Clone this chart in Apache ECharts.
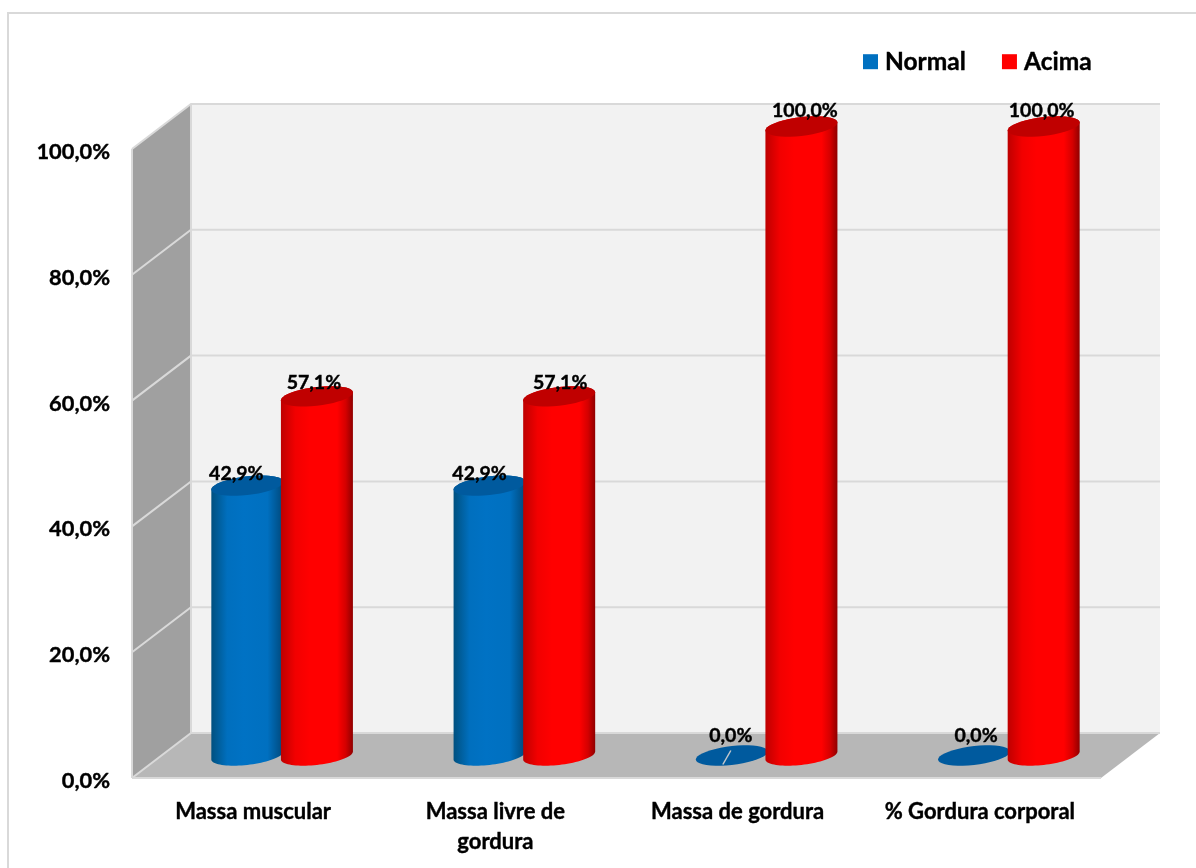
<!DOCTYPE html>
<html>
<head>
<meta charset="utf-8">
<style>html,body{margin:0;padding:0;background:#fff}#chart{width:1196px;height:868px}</style>
<script src="https://cdn.jsdelivr.net/npm/echarts@6/dist/echarts.min.js"></script>
</head>
<body>
<div id="chart"></div>
<script>
// Composição corporal: share of each class per measure
const categories = ['Massa muscular', 'Massa livre de\ngordura', 'Massa de gordura', '% Gordura corporal'];
const normalValues = [42.9, 42.9, 0, 0];
const acimaValues = [57.1, 57.1, 100, 100];
const yTicks = [0, 20, 40, 60, 80, 100];

// Oblique projection: the walls sit one full depth behind the axis plane, the cylinders half way
const DEPTH_X = 59;
const DEPTH_Y = -45;
const BAR_STEP = 69.6;
const BAR_SHIFT = -0.5;
const RADIUS_X = 36;
const RADIUS_Y = 9.4;
const TILT = 0.11;
const FONT = 'Lato, "Noto Sans", sans-serif';
// Faux-heavy outline so the Lato bold reads with the weight of the chart's labels
const HEAVY = { textBorderColor: '#000', textBorderWidth: 0.4 };

const pct = v => v.toFixed(1).replace('.', ',') + '%';

// Point on a cylinder's rim, slightly sheared so the ellipse rises to the right
function rim(cx, cy, t) {
  return [
    cx + RADIUS_X * Math.cos(t),
    cy + RADIUS_Y * Math.sin(t) - TILT * RADIUS_X * Math.cos(t)
  ];
}
function arc(cx, cy, from, to) {
  const pts = [];
  const n = 40;
  for (let i = 0; i <= n; i++) pts.push(rim(cx, cy, from + (to - from) * i / n));
  return pts;
}

function renderWalls(params, api) {
  const g = params.coordSys;
  const x0 = g.x, x1 = g.x + g.width;
  const yBase = api.coord([0, 0])[1];
  const yTop = api.coord([0, 100])[1];
  const bx0 = x0 + DEPTH_X, bx1 = x1 + DEPTH_X;
  const children = [
    { type: 'rect', shape: { x: bx0, y: yTop + DEPTH_Y, width: g.width, height: yBase - yTop }, style: { fill: '#F2F2F2' } },
    { type: 'polygon', shape: { points: [[x0, yTop], [bx0, yTop + DEPTH_Y], [bx0, yBase + DEPTH_Y], [x0, yBase]] }, style: { fill: '#A0A0A0' } },
    { type: 'polygon', shape: { points: [[x0, yBase], [bx0, yBase + DEPTH_Y], [bx1, yBase + DEPTH_Y], [x1, yBase]] }, style: { fill: '#B7B7B7' } }
  ];
  const edge = { stroke: '#D9D9D9', lineWidth: 2, fill: 'none' };
  yTicks.forEach(tick => {
    const y = api.coord([0, tick])[1];
    children.push({ type: 'polyline', shape: { points: [[x0, y], [bx0, y + DEPTH_Y], [bx1, y + DEPTH_Y]] }, style: edge });
  });
  children.push({ type: 'line', shape: { x1: bx0, y1: yTop + DEPTH_Y, x2: bx0, y2: yBase + DEPTH_Y }, style: edge });
  children.push({ type: 'line', shape: { x1: x0, y1: yTop, x2: x0, y2: yBase }, style: edge });
  children.push({ type: 'line', shape: { x1: x0, y1: yBase, x2: x1, y2: yBase }, style: edge });
  return { type: 'group', children };
}

function cylinderRenderer(side, stops, capColor, labelNudge) {
  return function (params, api) {
    const cat = api.value(0);
    const val = api.value(1);
    const top = api.coord([cat, val]);
    const base = api.coord([cat, 0]);
    const cx = top[0] + DEPTH_X / 2 + side * BAR_STEP / 2 + BAR_SHIFT;
    const cyTop = top[1] + DEPTH_Y / 2;
    const cyBase = base[1] + DEPTH_Y / 2;
    const children = [];
    if (val > 0) {
      const outline = arc(cx, cyBase, 0, Math.PI).concat(arc(cx, cyTop, Math.PI, 2 * Math.PI));
      children.push({
        type: 'polygon',
        shape: { points: outline },
        style: { fill: { type: 'linear', x: 0, y: 0, x2: 1, y2: 0, colorStops: stops } }
      });
    }
    children.push({ type: 'polygon', shape: { points: arc(cx, cyTop, 0, 2 * Math.PI) }, style: { fill: capColor } });
    // Leader stub left by the empty slice of "Massa de gordura"
    if (val === 0 && cat === 2) {
      children.push({ type: 'line', shape: { x1: cx - 1, y1: cyTop - 5, x2: cx - 9, y2: cyTop + 9 }, style: { stroke: '#C4C8CC', lineWidth: 1.5 } });
    }
    let lift = 16;
    if (val === 0) lift = 20;
    else if (val < 50) lift = 12;
    else if (val < 100) lift = 14;
    children.push({
      type: 'text',
      style: {
        x: cx + labelNudge[cat],
        y: cyTop - lift,
        text: pct(val),
        fill: '#000',
        stroke: '#000',
        lineWidth: 0.4,
        font: 'bold 19.5px ' + FONT,
        textAlign: 'center',
        textVerticalAlign: 'middle'
      }
    });
    return { type: 'group', children };
  };
}

const blueStops = [
  { offset: 0, color: '#00507F' }, { offset: 0.22, color: '#006FBE' }, { offset: 0.45, color: '#0072C4' },
  { offset: 0.78, color: '#0070C0' }, { offset: 1, color: '#00487A' }
];
const redStops = [
  { offset: 0, color: '#BE0000' }, { offset: 0.2, color: '#F20000' }, { offset: 0.4, color: '#FF0000' },
  { offset: 0.78, color: '#FF0000' }, { offset: 0.9, color: '#D40000' }, { offset: 1, color: '#900000' }
];

const chart = echarts.init(document.getElementById('chart'));
chart.setOption({
  animation: false,
  backgroundColor: '#fff',
  tooltip: { show: false },
  graphic: [
    { type: 'line', shape: { x1: 7, y1: 13, x2: 1196, y2: 13 }, style: { stroke: '#D9D9D9', lineWidth: 2 } },
    { type: 'line', shape: { x1: 8, y1: 13, x2: 8, y2: 868 }, style: { stroke: '#D9D9D9', lineWidth: 2 } }
  ],
  legend: {
    data: ['Normal', 'Acima'],
    left: 858,
    top: 44,
    itemWidth: 15,
    itemHeight: 15,
    itemGap: 36,
    icon: 'rect',
    textStyle: Object.assign({ fontFamily: FONT, fontWeight: 'bold', fontSize: 24.5, color: '#000', padding: [0, 0, 0, 2] }, HEAVY)
  },
  grid: { left: 132, right: 95, top: 149, bottom: 90 },
  xAxis: {
    type: 'category',
    data: categories,
    axisLine: { show: false },
    axisTick: { show: false },
    axisLabel: Object.assign({ fontFamily: FONT, fontWeight: 'bold', fontSize: 22, color: '#000', margin: 19, lineHeight: 30, interval: 0 }, HEAVY)
  },
  yAxis: {
    type: 'value',
    min: 0,
    max: 100,
    interval: 20,
    axisLine: { show: false },
    axisTick: { show: false },
    splitLine: { show: false },
    axisLabel: Object.assign({ fontFamily: FONT, fontWeight: 'bold', fontSize: 21.8, color: '#000', margin: 22, verticalAlign: 'top', lineHeight: 6, formatter: v => pct(v) }, HEAVY)
  },
  series: [
    { type: 'custom', name: 'walls', silent: true, clip: false, z: 1, renderItem: renderWalls, data: [[0, 0]] },
    {
      type: 'custom', name: 'Normal', clip: false, z: 2, itemStyle: { color: '#0070C0' },
      renderItem: cylinderRenderer(-1, blueStops, '#005A9E', [-11, -10, -1, 2]),
      encode: { x: 0, y: 1 },
      data: normalValues.map((v, i) => [i, v])
    },
    {
      type: 'custom', name: 'Acima', clip: false, z: 3, itemStyle: { color: '#FF0000' },
      renderItem: cylinderRenderer(1, redStops, '#C00000', [-3, 1, 3.5, -2]),
      encode: { x: 0, y: 1 },
      data: acimaValues.map((v, i) => [i, v])
    }
  ]
});
</script>
</body>
</html>
